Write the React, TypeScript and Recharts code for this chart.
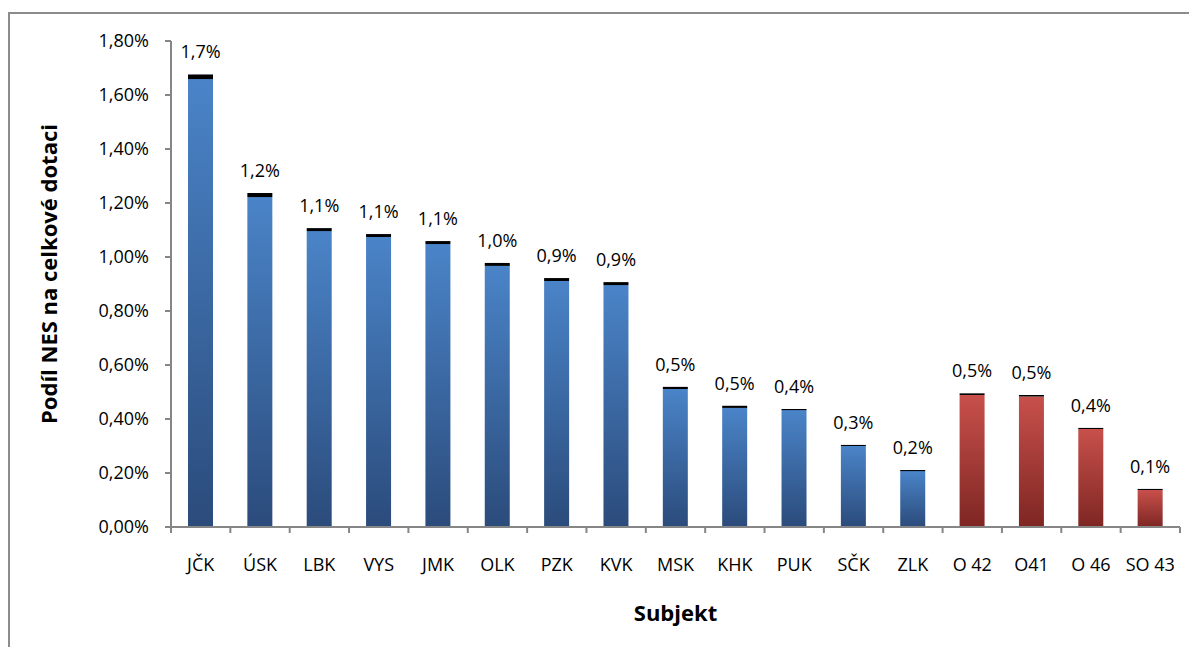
import { BarChart, Bar, XAxis, YAxis, Cell, LabelList } from 'recharts';

// Subjekty na ose X
const subjects = ['JČK', 'ÚSK', 'LBK', 'VYS', 'JMK', 'OLK', 'PZK', 'KVK', 'MSK', 'KHK', 'PUK', 'SČK', 'ZLK', 'O 42', 'O41', 'O 46', 'SO 43'];
// podíl NES v % (barevná část sloupce)
const shares = [1.659, 1.222, 1.096, 1.074, 1.048, 0.967, 0.911, 0.896, 0.511, 0.441, 0.433, 0.3, 0.207, 0.489, 0.483, 0.363, 0.137];
// černá horní část sloupce
const caps = [0.017, 0.015, 0.011, 0.011, 0.011, 0.011, 0.011, 0.011, 0.008, 0.008, 0.004, 0.004, 0.004, 0.006, 0.006, 0.004, 0.004];
const labels = ['1,7%', '1,2%', '1,1%', '1,1%', '1,1%', '1,0%', '0,9%', '0,9%', '0,5%', '0,5%', '0,4%', '0,3%', '0,2%', '0,5%', '0,5%', '0,4%', '0,1%'];
// od kterého subjektu jsou sloupce červené
const redFrom = 13;
const yTicks = [0, 0.2, 0.4, 0.6, 0.8, 1.0, 1.2, 1.4, 1.6, 1.8];

const data = subjects.map((name, i) => ({
  name,
  share: shares[i],
  cap: caps[i],
  label: labels[i],
}));

const W = 1181;
const H = 639;
const MARGIN = { top: 33, right: 9, bottom: 80, left: 100 };
const Y_AXIS_W = 63;
const BAND = (W - MARGIN.right - MARGIN.left - Y_AXIS_W) / subjects.length;
const AXIS = '#868686';
const FONT = '"Open Sans", sans-serif';

const fmtPct = (v: number) => v.toFixed(2).replace('.', ',') + '%';

function XTick(props: any) {
  const { x, y, payload, index } = props;
  const left = x - BAND / 2;
  const right = x + BAND / 2;
  return (
    <g>
      <line x1={left} x2={left} y1={y} y2={y + 6} stroke={AXIS} strokeWidth={2} />
      {index === subjects.length - 1 && (
        <line x1={right} x2={right} y1={y} y2={y + 6} stroke={AXIS} strokeWidth={2} />
      )}
      <text x={x} y={y + 44} textAnchor="middle" fontSize={18} fontFamily={FONT} fill="#000">
        {payload.value}
      </text>
    </g>
  );
}

function YTitle(props: any) {
  const vb = props.viewBox;
  const cx = vb.x - 51;
  const cy = vb.y + vb.height / 2 - 10;
  return (
    <text
      x={cx}
      y={cy}
      transform={`rotate(-90 ${cx} ${cy})`}
      textAnchor="middle"
      fontSize={22}
      fontWeight="bold"
      fontFamily={FONT}
      fill="#000"
    >
      Podíl NES na celkové dotaci
    </text>
  );
}

function XTitle(props: any) {
  const vb = props.viewBox;
  return (
    <text
      x={vb.x + vb.width / 2}
      y={613}
      textAnchor="middle"
      fontSize={22}
      fontWeight="bold"
      fontFamily={FONT}
      fill="#000"
    >
      Subjekt
    </text>
  );
}

export default function App() {
  return (
    <div style={{ position: 'relative', width: W, height: H, overflow: 'hidden', fontFamily: FONT }}>
      <div
        style={{
          position: 'absolute',
          left: 0,
          top: 4,
          width: W + 50,
          height: H + 50,
          border: '2px solid #8c8c8c',
          boxSizing: 'border-box',
        }}
      />
      <svg width={0} height={0} style={{ position: 'absolute' }}>
        <defs>
          <linearGradient id="blueGrad" x1="0" y1="0" x2="0" y2="1">
            <stop offset="0%" stopColor="#4A84C8" />
            <stop offset="100%" stopColor="#2B4B7B" />
          </linearGradient>
          <linearGradient id="redGrad" x1="0" y1="0" x2="0" y2="1">
            <stop offset="0%" stopColor="#C8504B" />
            <stop offset="100%" stopColor="#7E2623" />
          </linearGradient>
        </defs>
      </svg>
      <div style={{ position: 'absolute', left: 0, top: 0 }}>
        <BarChart width={W} height={H} data={data} margin={MARGIN} barSize={25}>
          <XAxis
            dataKey="name"
            stroke={AXIS}
            strokeWidth={2}
            tickLine={false}
            tickSize={0}
            tickMargin={0}
            tick={<XTick />}
            height={40}
            interval={0}
            label={<XTitle />}
          />
          <YAxis
            domain={[0, 1.8]}
            ticks={yTicks}
            tickFormatter={fmtPct}
            width={Y_AXIS_W}
            stroke={AXIS}
            strokeWidth={2}
            tickSize={6}
            tickMargin={16}
            tick={{ fill: '#000', fontSize: 18, fontFamily: FONT }}
            label={<YTitle />}
          />
          <Bar dataKey="share" stackId="a" isAnimationActive={false}>
            {data.map((_, i) => (
              <Cell key={i} fill={i >= redFrom ? 'url(#redGrad)' : 'url(#blueGrad)'} />
            ))}
          </Bar>
          <Bar dataKey="cap" stackId="a" fill="#000" isAnimationActive={false}>
            <LabelList
              dataKey="label"
              position="top"
              offset={16}
              fill="#000"
              fontSize={18}
              fontFamily={FONT}
            />
          </Bar>
        </BarChart>
      </div>
    </div>
  );
}
